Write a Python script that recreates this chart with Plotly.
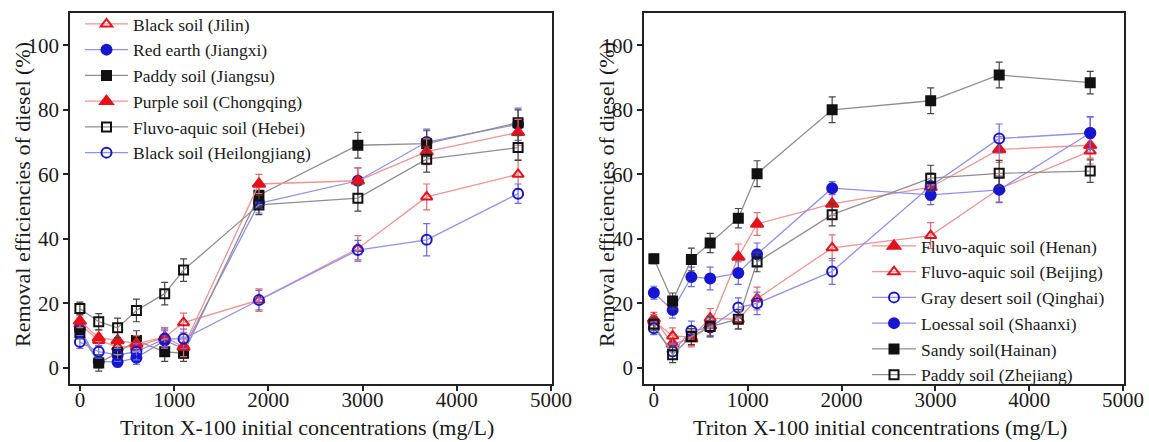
import plotly.graph_objects as go

# ---------------- data ----------------
conc = [0, 200, 400, 600, 900, 1100, 1900, 2950, 3680, 4650]
x_ticks = [0, 1000, 2000, 3000, 4000, 5000]
y_ticks = [0, 20, 40, 60, 80, 100]

# left panel
left_names = ["Black soil (Jilin)", "Red earth (Jiangxi)", "Paddy soil (Jiangsu)",
              "Purple soil (Chongqing)", "Fluvo-aquic soil (Hebei)", "Black soil (Heilongjiang)"]
jilin = [13.5, 8.5, 6.5, 6.5, 9.5, 14.0, 21.0, 37.0, 53.0, 60.0]
jiangxi = [12.0, 2.0, 1.8, 3.1, 8.5, 6.0, 51.0, 58.0, 70.0, 75.5]
jiangsu = [11.0, 1.5, 4.7, 8.5, 5.0, 4.5, 53.5, 69.0, 69.5, 76.0]
chongqing = [14.5, 9.3, 8.5, 7.5, 9.5, 6.5, 57.0, 58.0, 67.0, 73.0]
hebei = [18.4, 14.3, 12.4, 17.8, 23.0, 30.3, 50.5, 52.6, 64.7, 68.3]
heilongjiang = [8.0, 5.0, 4.0, 5.0, 9.0, 9.0, 21.0, 36.5, 39.7, 54.0]

jilin_err = [2.0, 2.0, 2.0, 2.5, 3.0, 3.0, 3.5, 4.0, 4.0, 4.5]
jiangxi_err = [2.0, 2.0, 1.5, 2.0, 3.0, 3.0, 3.0, 4.0, 4.0, 5.0]
jiangsu_err = [2.0, 2.5, 2.5, 3.0, 3.0, 2.5, 3.5, 4.0, 4.0, 4.0]
chongqing_err = [2.0, 2.5, 2.5, 2.5, 3.0, 3.0, 3.0, 4.0, 4.0, 4.0]
hebei_err = [2.0, 2.5, 3.0, 3.5, 3.5, 3.5, 3.0, 4.0, 4.0, 4.0]
heilongjiang_err = [2.0, 2.0, 2.0, 2.5, 3.0, 3.0, 3.0, 3.0, 5.0, 3.0]

# right panel
right_names = ["Fluvo-aquic soil (Henan)", "Fluvo-aquic soil (Beijing)", "Gray desert soil (Qinghai)",
               "Loessal soil (Shaanxi)", "Sandy soil(Hainan)", "Paddy soil (Zhejiang)"]
henan = [15.2, 7.5, 9.0, 13.1, 34.4, 44.6, 50.8, 56.0, 67.7, 69.0]
beijing = [14.5, 9.9, 9.5, 15.4, 15.0, 21.5, 37.2, 41.0, 55.5, 67.2]
qinghai = [12.3, 5.1, 11.5, 12.5, 18.7, 20.0, 29.9, 56.4, 71.1, 72.8]
shaanxi = [23.3, 17.9, 28.2, 27.7, 29.4, 35.2, 55.7, 53.6, 55.2, 72.8]
hainan = [33.8, 20.7, 33.6, 38.7, 46.4, 60.2, 80.0, 82.8, 90.8, 88.4]
zhejiang = [13.5, 4.1, 9.7, 12.8, 15.1, 32.8, 47.5, 58.8, 60.3, 61.0]

henan_err = [2.0, 2.5, 2.5, 3.0, 4.0, 3.5, 3.5, 4.0, 4.0, 4.0]
beijing_err = [2.0, 2.5, 2.5, 3.0, 3.0, 3.5, 4.0, 4.0, 4.0, 4.0]
qinghai_err = [2.0, 2.5, 3.0, 3.0, 3.0, 3.5, 4.0, 4.0, 4.5, 5.0]
shaanxi_err = [2.0, 2.5, 3.0, 3.5, 3.5, 3.5, 2.0, 3.0, 4.0, 5.0]
hainan_err = [1.5, 2.5, 3.5, 3.0, 3.0, 4.0, 4.0, 4.0, 4.0, 3.5]
zhejiang_err = [2.0, 2.5, 2.5, 3.0, 3.0, 3.0, 3.5, 4.0, 4.0, 3.5]

# ---------------- styles ----------------
RED_M, RED_L, RED_E = "#e4121c", "#f39292", "#e86a6a"
BLU_M, BLU_L, BLU_E = "#1616d0", "#9090f2", "#6a6ae6"
BLK_M, BLK_L, BLK_E = "#111111", "#8e8e8e", "#444444"
FONT = "Liberation Serif, Times New Roman, serif"

styles = {
    "tri_open_red": ("triangle-up-open", RED_M, RED_L, RED_E, 10),
    "circ_blue": ("circle", BLU_M, BLU_L, BLU_E, 10),
    "sq_black": ("square", BLK_M, BLK_L, BLK_E, 9),
    "tri_red": ("triangle-up", RED_M, RED_L, RED_E, 11),
    "sq_open_black": ("square-open", BLK_M, BLK_L, BLK_E, 9),
    "circ_open_blue": ("circle-open", BLU_M, BLU_L, BLU_E, 10),
}

fig = go.Figure()


def add(name, y, err, style, xa, ya, legend):
    sym, mc, lc, ec, sz = styles[style]
    fig.add_trace(go.Scatter(
        x=conc, y=y, name=name, mode="lines+markers",
        xaxis=xa, yaxis=ya, legend=legend,
        line=dict(color=lc, width=1.3),
        marker=dict(symbol=sym, size=sz, color=mc, line=dict(color=mc, width=2)),
        error_y=dict(type="data", array=err, visible=True, color=ec, thickness=1.2, width=3.5),
    ))


left_series = [
    (jilin, jilin_err, "tri_open_red"),
    (jiangxi, jiangxi_err, "circ_blue"),
    (jiangsu, jiangsu_err, "sq_black"),
    (chongqing, chongqing_err, "tri_red"),
    (hebei, hebei_err, "sq_open_black"),
    (heilongjiang, heilongjiang_err, "circ_open_blue"),
]
for nm, (y, e, st) in zip(left_names, left_series):
    add(nm, y, e, st, "x", "y", "legend")

right_series = [
    (henan, henan_err, "tri_red"),
    (beijing, beijing_err, "tri_open_red"),
    (qinghai, qinghai_err, "circ_open_blue"),
    (shaanxi, shaanxi_err, "circ_blue"),
    (hainan, hainan_err, "sq_black"),
    (zhejiang, zhejiang_err, "sq_open_black"),
]
for nm, (y, e, st) in zip(right_names, right_series):
    add(nm, y, e, st, "x2", "y2", "legend2")

W, H = 1149, 442
ML, MR, MT, MB = 70, 25, 0, 58
PW, PH = W - ML - MR, H - MT - MB
FRAME_TOP = 13


def px(xp):
    return (xp - ML) / PW


def py(yp):
    return (H - MB - yp) / PH


axis_common = dict(
    showline=True, linecolor="#222222", linewidth=1.5, mirror=True,
    ticks="outside", ticklen=5, tickwidth=1.5, tickcolor="#222222",
    showgrid=False, zeroline=False,
    tickfont=dict(family=FONT, size=21, color="#1a1a1a"),
)
xax = dict(range=[-105, 5010], tickvals=x_ticks, ticklabelstandoff=-9, **axis_common)
yax = dict(domain=[0, py(FRAME_TOP)], range=[-5, 110], tickvals=y_ticks, ticklabelstandoff=0, **axis_common)

LEG_FONT = dict(family=FONT, size=17.5, color="#1a1a1a")

fig.update_layout(
    width=W, height=H,
    margin=dict(l=ML, r=MR, t=MT, b=MB),
    paper_bgcolor="white", plot_bgcolor="white",
    font=dict(family=FONT, color="#1a1a1a"),
    xaxis=dict(domain=[0, px(552)], anchor="y", **xax),
    yaxis=dict(anchor="x", **yax),
    xaxis2=dict(domain=[px(644), 1], anchor="y2", **xax),
    yaxis2=dict(anchor="x2", **yax),
    legend=dict(x=px(80), y=py(6), xanchor="left", yanchor="top",
                bgcolor="rgba(0,0,0,0)", borderwidth=0, itemwidth=43,
                font=LEG_FONT, tracegroupgap=0),
    legend2=dict(x=px(867), y=py(228), xanchor="left", yanchor="top",
                 bgcolor="rgba(0,0,0,0)", borderwidth=0, itemwidth=44,
                 font=LEG_FONT, tracegroupgap=0),
)

xtitle = "Triton X-100 initial concentrations (mg/L)"
ytitle = "Removal efficiencies of diesel (%)"
ann = [
    dict(text=xtitle, x=px(307), y=py(427)),
    dict(text=xtitle, x=px(880), y=py(427)),
    dict(text=ytitle, x=px(22), y=py(195), textangle=-90),
    dict(text=ytitle, x=px(606), y=py(195), textangle=-90),
]
for a in ann:
    fig.add_annotation(xref="paper", yref="paper", showarrow=False,
                       xanchor="center", yanchor="middle",
                       font=dict(family=FONT, size=22, color="#1a1a1a"), **a)

fig.write_html(
    "out.html",
    config={"displayModeBar": False},
    post_script="document.body.style.margin='0';document.body.style.padding='0';",
)
